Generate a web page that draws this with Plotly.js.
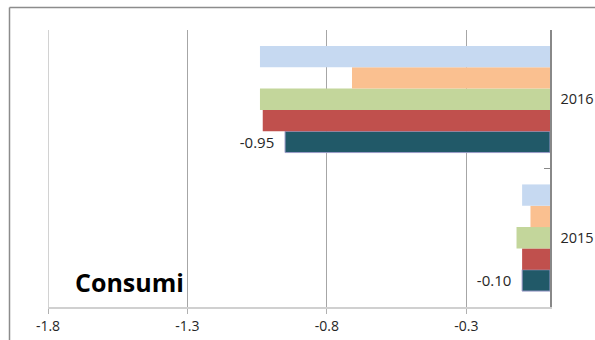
<!DOCTYPE html>
<html>
<head>
<meta charset="utf-8">
<script src="https://cdn.plot.ly/plotly-3.0.1.min.js"></script>
<style>
  html, body { margin: 0; padding: 0; background: #ffffff; }
  #chart { width: 595px; height: 340px; }
</style>
</head>
<body>
<div id="chart"></div>
<script>
// Categories (bottom to top) and the five series, drawn bottom-up within each group
const years = ['2015', '2016'];
const seriesA = [-0.10, -0.95];   // dark teal, labelled
const seriesB = [-0.10, -1.03];   // red
const seriesC = [-0.12, -1.04];   // green
const seriesD = [-0.07, -0.71];   // orange
const seriesE = [-0.10, -1.04];   // light blue
const xTicks = [-1.8, -1.3, -0.8, -0.3];
const xTickText = ['-1.8', '-1.3', '-0.8', '-0.3'];

const FONT = 'Open Sans, Liberation Sans, sans-serif';
const TXT = '#262626';

function bar(values, color, opts) {
  return Object.assign({
    type: 'bar',
    orientation: 'h',
    y: years,
    x: values,
    marker: { color: color, line: { width: 0 } },
    hoverinfo: 'skip',
    showlegend: false
  }, opts || {});
}

const traces = [
  bar(seriesA, '#215968', {
    marker: { color: '#215968', line: { color: '#9a9ac8', width: 1 } },
    // value label with a little breathing room before the bar end
    text: seriesA.map(v => v.toFixed(2) + '\u00a0\u00a0'),
    textposition: 'outside',
    textfont: { family: FONT, size: 15, color: TXT },
    cliponaxis: false
  }),
  bar(seriesB, '#C0504D'),
  bar(seriesC, '#C3D69B'),
  bar(seriesD, '#FAC090'),
  bar(seriesE, '#C6D9F1')
];

const W = 595, H = 340;
const M = { l: 48, r: 45, t: 30, b: 33 };
const pw = W - M.l - M.r, ph = H - M.t - M.b;
// frame lines of the chart area, in paper units
const fx = (9.5 - M.l) / pw;
const fy = (H - M.b - 7.5) / ph;

const layout = {
  width: W,
  height: H,
  margin: M,
  paper_bgcolor: '#ffffff',
  plot_bgcolor: '#ffffff',
  barmode: 'group',
  bargap: 0.23,
  bargroupgap: 0,
  font: { family: FONT, size: 14, color: TXT },
  xaxis: {
    range: [-1.8, 0],
    tickvals: xTicks,
    ticktext: xTickText,
    showgrid: true,
    gridcolor: '#a6a6a6',
    gridwidth: 1,
    zeroline: false,
    showline: true,
    linecolor: '#d0d0d0',
    linewidth: 2,
    ticks: 'outside',
    ticklen: 5,
    tickcolor: '#b0b0b0',
    tickfont: { family: FONT, size: 14, color: TXT },
    fixedrange: true
  },
  yaxis: {
    side: 'right',
    type: 'category',
    showgrid: false,
    zeroline: false,
    showline: true,
    linecolor: '#888888',
    linewidth: 1.5,
    ticks: 'inside',
    tickson: 'boundaries',
    ticklen: 6,
    tickcolor: '#888888',
    tickfont: { family: FONT, size: 14.5, color: TXT },
    ticklabelstandoff: 6,
    fixedrange: true
  },
  shapes: [
    // gridline at the left end of the value axis
    { type: 'line', xref: 'x', yref: 'paper', x0: xTicks[0], x1: xTicks[0], y0: 0, y1: 1,
      line: { color: '#a6a6a6', width: 1 }, layer: 'below' },
    { type: 'line', xref: 'paper', yref: 'paper', x0: fx, x1: fx, y0: fy, y1: -0.2,
      line: { color: '#8c8c8c', width: 1.5 } },
    { type: 'line', xref: 'paper', yref: 'paper', x0: fx, x1: 1.2, y0: fy, y1: fy,
      line: { color: '#8c8c8c', width: 1.5 } }
  ],
  annotations: [
    { text: '<b>Consumi</b>', xref: 'paper', yref: 'paper',
      x: (129 - M.l) / pw, y: (H - M.b - 282) / ph,
      xanchor: 'center', yanchor: 'middle', showarrow: false,
      font: { family: FONT, size: 25, color: '#000000' } }
  ]
};

Plotly.newPlot('chart', traces, layout, { displayModeBar: false, staticPlot: true });
</script>
</body>
</html>
